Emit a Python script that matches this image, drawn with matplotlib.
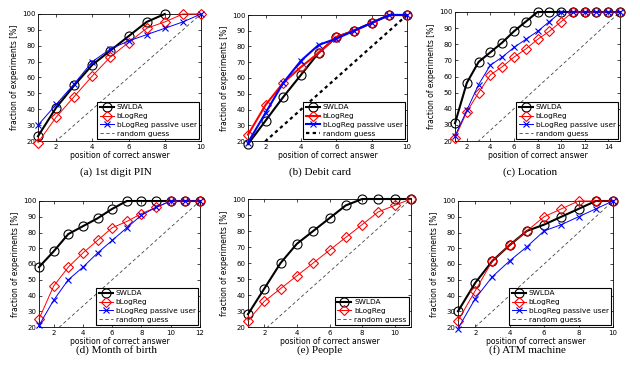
import matplotlib
matplotlib.use("Agg")
import matplotlib.pyplot as plt
import numpy as np

W, H = 640, 372

# panel data (fraction of experiments [%] vs position of correct answer)
captions = ["(a) 1st digit PIN", "(b) Debit card", "(c) Location",
            "(d) Month of birth", "(e) People", "(f) ATM machine"]
n_pos = [10, 10, 15, 12, 11, 10]

swlda = [
    [23, 41, 55, 68, 77, 86, 95, 100],
    [18, 33, 48, 62, 76, 86, 90, 95, 100, 100],
    [31, 56, 69, 75, 81, 88, 94, 100, 100, 100, 100, 100, 100, 100, 100],
    [58, 68, 79, 84, 89, 95, 100, 100, 100, 100, 100, 100],
    [28, 44, 60, 72, 80, 88, 96, 100, 100, 100, 100],
    [30, 48, 62, 72, 81, 85, 90, 95, 100, 100],
]
blogreg = [
    [19, 35, 48, 61, 73, 82, 91, 95, 100, 100],
    [24, 43, 57, 67, 76, 86, 90, 95, 100, 100],
    [22, 38, 50, 61, 66, 72, 77, 83, 88, 94, 100, 100, 100, 100, 100],
    [25, 46, 58, 67, 75, 83, 87, 92, 96, 100, 100, 100],
    [24, 36, 44, 52, 60, 68, 76, 84, 92, 96, 100],
    [24, 43, 62, 72, 81, 90, 95, 100, 100, 100],
]
passive = [
    [30, 43, 56, 70, 78, 83, 87, 91, 95, 100],
    [19, 38, 57, 71, 81, 85, 90, 95, 100, 100],
    [23, 39, 55, 67, 72, 78, 83, 88, 94, 100, 100, 100, 100, 100, 100],
    [21, 37, 50, 58, 67, 75, 83, 91, 96, 100, 100, 100],
    None,
    [19, 38, 52, 62, 71, 81, 85, 90, 95, 100],
]

# axes boxes in pixels: left, top, right, bottom
boxes = [(38, 14, 201, 141), (248, 15, 407, 141), (455, 12, 620, 141),
         (39, 201, 200, 327), (248, 199, 411, 327), (458, 201, 613, 327)]
cap_pos = [(116, 172), (320, 172), (530, 172), (116, 350), (320, 350), (527, 350)]

plt.rcParams['font.family'] = 'DejaVu Sans'
fig = plt.figure(figsize=(W / 100, H / 100), dpi=100)

for i in range(6):
    l, t, r, b = boxes[i]
    ax = fig.add_axes([l / W, 1 - b / H, (r - l) / W, (b - t) / H])
    n = n_pos[i]
    thick = i == 1
    x = np.arange(1, len(swlda[i]) + 1)
    ax.plot(x, swlda[i], color='black', lw=1.5, marker='o', ms=6.5,
            mfc='none', mew=0.8, label='SWLDA', clip_on=False, zorder=3)
    x = np.arange(1, len(blogreg[i]) + 1)
    ax.plot(x, blogreg[i], color='red', lw=1.5 if thick else 0.7, marker='D',
            ms=5.5, mfc='none', mew=0.8, label='bLogReg', clip_on=False, zorder=4)
    if passive[i] is not None:
        x = np.arange(1, len(passive[i]) + 1)
        ax.plot(x, passive[i], color='blue', lw=1.5 if thick else 0.7,
                marker='x', ms=5, mew=0.8, label='bLogReg passive user',
                clip_on=False, zorder=5)
    xg = np.array([0, n])
    if thick:
        ax.plot(xg, 100 * xg / n, color='black', lw=1.6, ls=(0, (1.5, 1.5)),
                label='random guess', zorder=2)
    else:
        ax.plot(xg, 100 * xg / n, color='#444444', lw=0.6, ls=(0, (4, 3)),
                label='random guess', zorder=2)
    ax.set_xlim(1, n)
    ax.set_ylim(20, 100)
    ax.set_yticks(range(20, 101, 10))
    ax.set_xticks(range(2, n + 1, 2))
    ax.tick_params(direction='in', top=True, right=True, labelsize=5,
                   length=2, width=0.5, pad=2)
    for s in ax.spines.values():
        s.set_linewidth(0.6)
    ax.set_xlabel('position of correct answer', fontsize=5.5, labelpad=1)
    ax.set_ylabel('fraction of experiments [%]', fontsize=5.5, labelpad=2)
    leg = ax.legend(loc='lower right', fontsize=5.3, frameon=True, fancybox=False,
                    edgecolor='black', framealpha=1, borderpad=0.3,
                    labelspacing=0.35, handlelength=1.9, handletextpad=0.4,
                    borderaxespad=0.3)
    leg.get_frame().set_linewidth(0.8)
    cx, cy = cap_pos[i]
    fig.text(cx / W, 1 - cy / H, captions[i], ha='center', va='center',
             fontsize=8, family='Liberation Serif')

fig.savefig('out.png', dpi=100)
